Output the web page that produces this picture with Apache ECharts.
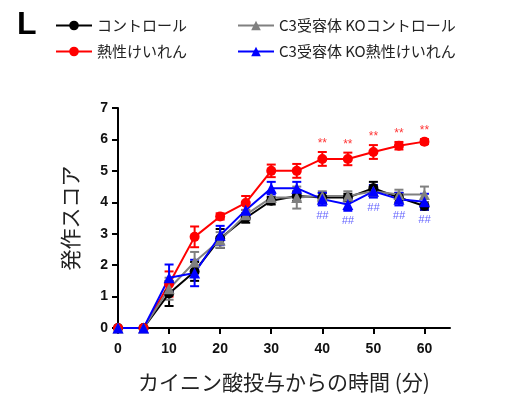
<!DOCTYPE html>
<html>
<head>
<meta charset="utf-8">
<script src="https://cdn.jsdelivr.net/npm/echarts@6/dist/echarts.min.js"></script>
<style>
  html, body { margin: 0; padding: 0; background: #fff; }
  #chart { width: 525px; height: 405px; }
</style>
</head>
<body>
<div id="chart"></div>
<script>
// Time after kainic acid injection (min)
const times = [0, 5, 10, 15, 20, 25, 30, 35, 40, 45, 50, 55, 60];

// Seizure score, mean and error per group
const controlMean = [0, 0, 1.1, 1.8, 2.85, 3.5, 4.05, 4.2, 4.15, 4.15, 4.45, 4.15, 3.88];
const controlErr  = [0, 0, 0.4, 0.3, 0.3, 0.15, 0.12, 0.15, 0.15, 0.12, 0.2, 0.15, 0.12];

const febrileMean = [0, 0, 1.4, 2.9, 3.55, 3.98, 5.0, 5.0, 5.38, 5.38, 5.6, 5.8, 5.93];
const febrileErr  = [0, 0, 0.4, 0.33, 0.1, 0.22, 0.2, 0.22, 0.22, 0.2, 0.22, 0.12, 0.08];

const koControlMean = [0, 0, 1.25, 2.1, 2.8, 3.6, 4.15, 4.15, 4.2, 4.2, 4.35, 4.25, 4.25];
const koControlErr  = [0, 0, 0.35, 0.32, 0.25, 0.15, 0.15, 0.35, 0.15, 0.15, 0.15, 0.15, 0.25];

const koFebrileMean = [0, 0, 1.6, 1.75, 2.95, 3.75, 4.45, 4.45, 4.1, 3.93, 4.35, 4.1, 4.02];
const koFebrileErr  = [0, 0, 0.42, 0.42, 0.3, 0.25, 0.2, 0.2, 0.2, 0.2, 0.2, 0.2, 0.25];

// Significance marks
const starTimes = [40, 45, 50, 55, 60];   // ** febrile vs control
const hashTimes = [40, 45, 50, 55, 60];   // ## KO febrile vs febrile

const seriesNames = ['コントロール', '熱性けいれん', 'C3受容体 KOコントロール', 'C3受容体 KO熱性けいれん'];
const colors = ['#000000', '#ff0000', '#808080', '#0000ff'];
const symbols = ['circle', 'circle', 'triangle', 'triangle'];
const means = [controlMean, febrileMean, koControlMean, koFebrileMean];
const errs = [controlErr, febrileErr, koControlErr, koFebrileErr];

const chart = echarts.init(document.getElementById('chart'), null, { renderer: 'canvas' });

function errorBarSeries(mean, err, color) {
  return {
    type: 'custom',
    silent: true,
    z: 2,
    data: times.map((t, i) => [t, mean[i] - err[i], mean[i] + err[i]]),
    renderItem: function (params, api) {
      const lo = api.coord([api.value(0), api.value(1)]);
      const hi = api.coord([api.value(0), api.value(2)]);
      const w = 4.5;
      const style = { stroke: color, lineWidth: 2 };
      return {
        type: 'group',
        children: [
          { type: 'line', shape: { x1: lo[0], y1: lo[1], x2: hi[0], y2: hi[1] }, style: style },
          { type: 'line', shape: { x1: hi[0] - w, y1: hi[1], x2: hi[0] + w, y2: hi[1] }, style: style },
          { type: 'line', shape: { x1: lo[0] - w, y1: lo[1], x2: lo[0] + w, y2: lo[1] }, style: style }
        ]
      };
    }
  };
}

const series = [];
for (let k = 0; k < 4; k++) {
  series.push(errorBarSeries(means[k], errs[k], colors[k]));
}
for (let k = 0; k < 4; k++) {
  series.push({
    name: seriesNames[k],
    type: 'line',
    z: 3,
    data: times.map((t, i) => [t, means[k][i]]),
    symbol: symbols[k],
    symbolSize: symbols[k] === 'circle' ? 10 : 11,
    showAllSymbol: true,
    lineStyle: { color: colors[k], width: 2 },
    itemStyle: { color: colors[k], borderWidth: 0 },
    emphasis: { disabled: true },
    animation: false
  });
}

// ** above the febrile error bars
series.push({
  type: 'scatter',
  symbolSize: 0,
  silent: true,
  z: 4,
  data: starTimes.map(t => {
    const i = times.indexOf(t);
    return [t, febrileMean[i] + febrileErr[i]];
  }),
  label: {
    show: true, position: 'top', distance: 2,
    formatter: '**', color: '#ff0000', fontSize: 12,
    fontFamily: 'Liberation Sans'
  }
});
// ## below the KO febrile error bars
series.push({
  type: 'scatter',
  symbolSize: 0,
  silent: true,
  z: 4,
  data: hashTimes.map(t => {
    const i = times.indexOf(t);
    return [t, koFebrileMean[i] - koFebrileErr[i]];
  }),
  label: {
    show: true, position: 'bottom', distance: 5,
    formatter: '##', color: '#3a3aff', fontSize: 11, fontStyle: 'italic',
    fontFamily: 'Liberation Sans'
  }
});

const legendText = { fontSize: 15, color: '#222', fontFamily: 'Noto Sans CJK JP' };

chart.setOption({
  animation: false,
  backgroundColor: '#ffffff',
  title: {
    text: 'L', left: 12, top: 4,
    textStyle: { fontSize: 32, fontWeight: 'bold', color: '#000', fontFamily: 'Liberation Sans' }
  },
  legend: [
    {
      data: [seriesNames[0], seriesNames[1]],
      orient: 'vertical', left: 50, top: 13, itemGap: 11,
      itemWidth: 36, itemHeight: 12, textStyle: legendText, selectedMode: false
    },
    {
      data: [seriesNames[2], seriesNames[3]],
      orient: 'vertical', left: 232, top: 13, itemGap: 11,
      itemWidth: 36, itemHeight: 12, textStyle: legendText, selectedMode: false
    }
  ],
  grid: { left: 118, right: 75, top: 108, bottom: 77, containLabel: false },
  xAxis: {
    type: 'value', min: 0, max: 65, interval: 10,
    name: 'カイニン酸投与からの時間 (分)',
    nameLocation: 'middle', nameGap: 44,
    nameTextStyle: { fontSize: 21, color: '#222', fontFamily: 'Noto Sans CJK JP' },
    axisLine: { show: true, lineStyle: { color: '#000', width: 2 } },
    axisTick: { show: true, length: 6, lineStyle: { color: '#000', width: 2 } },
    axisLabel: {
      fontSize: 14, fontWeight: 'bold', color: '#111', margin: 14,
      fontFamily: 'Liberation Sans', showMaxLabel: false
    },
    splitLine: { show: false }
  },
  yAxis: {
    type: 'value', min: 0, max: 7, interval: 1,
    name: '発作スコア',
    nameLocation: 'middle', nameGap: 37, nameRotate: 90,
    nameTextStyle: { fontSize: 21, color: '#222', fontFamily: 'Noto Sans CJK JP' },
    axisLine: { show: true, lineStyle: { color: '#000', width: 2 } },
    axisTick: { show: true, length: 6, lineStyle: { color: '#000', width: 2 } },
    axisLabel: { fontSize: 14, fontWeight: 'bold', color: '#111', margin: 10, fontFamily: 'Liberation Sans' },
    splitLine: { show: false }
  },
  series: series
});
</script>
</body>
</html>
